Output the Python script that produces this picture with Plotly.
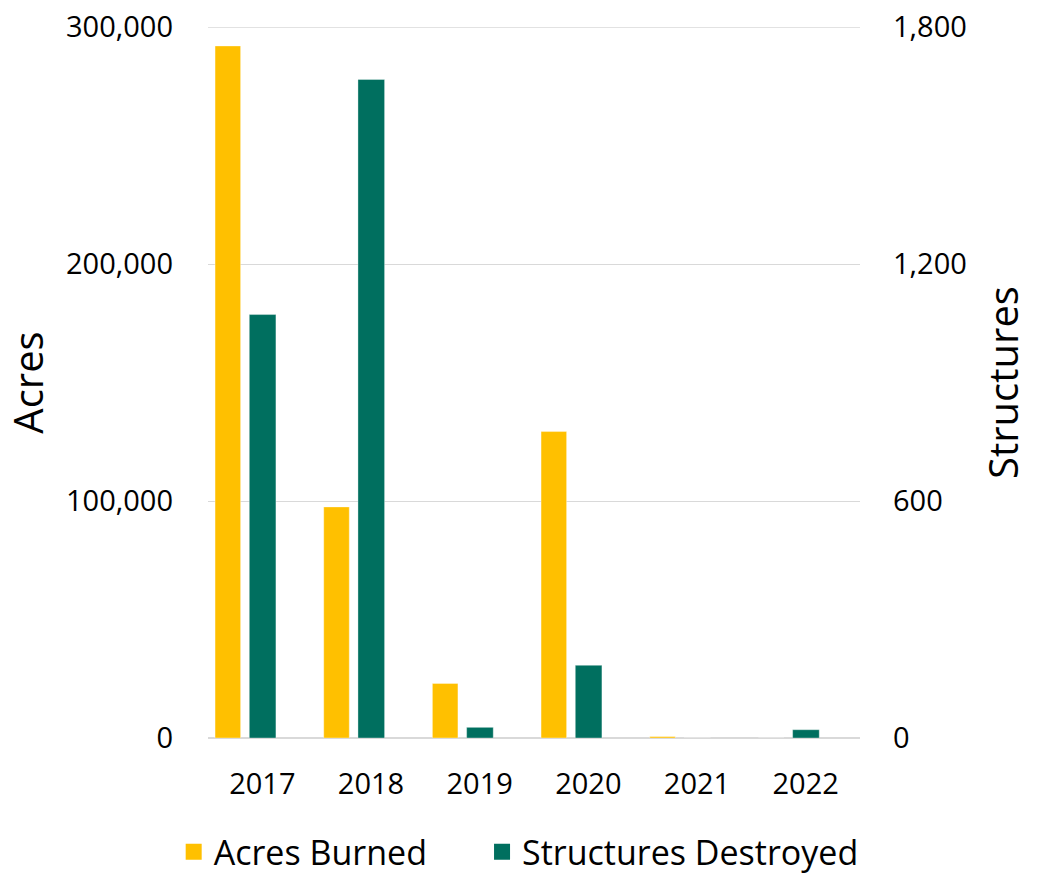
import plotly.graph_objects as go

years = ["2017", "2018", "2019", "2020", "2021", "2022"]
acres_burned = [292000, 97500, 23000, 129300, 600, 0]
structures_destroyed = [1072, 1667, 27, 184, 0, 21]

left_ticks = [0, 100000, 200000, 300000]
left_labels = ["0", "100,000", "200,000", "300,000"]
right_ticks = [0, 600, 1200, 1800]
right_labels = ["0", "600", "1,200", "1,800"]

FONT = "Open Sans"
YELLOW = "#FFC000"
TEAL = "#006F5F"
GRID = "#d9d9d9"

fig = go.Figure()
fig.add_trace(go.Bar(
    x=years, y=acres_burned, name="Acres Burned", yaxis="y",
    marker=dict(color=YELLOW, line=dict(color="rgba(255,255,255,0.35)", width=1)),
    width=0.235, offset=-0.435, showlegend=False,
))
fig.add_trace(go.Bar(
    x=years, y=structures_destroyed, name="Structures Destroyed", yaxis="y2",
    marker=dict(color=TEAL, line=dict(color="rgba(255,255,255,0.35)", width=1)),
    width=0.245, offset=-0.12, showlegend=False,
))
# legend entries with larger square swatches, each in its own legend box
for name, col, lg in [("Acres Burned", YELLOW, "legend"),
                      ("Structures Destroyed", TEAL, "legend2")]:
    fig.add_trace(go.Scatter(
        x=[None], y=[None], mode="markers", name=name, legend=lg,
        marker=dict(symbol="square", size=22, color=col),
    ))

fig.add_shape(type="line", xref="paper", x0=0, x1=1, yref="y",
              y0=left_ticks[-1], y1=left_ticks[-1],
              line=dict(color=GRID, width=1.3), layer="below")

legend_common = dict(orientation="h", xanchor="left", xref="container",
                     y=0.025, yanchor="middle", yref="container",
                     font=dict(size=34, family=FONT), itemsizing="trace",
                     itemwidth=30, bgcolor="rgba(0,0,0,0)")

fig.update_layout(
    width=1040, height=874,
    margin=dict(l=208, r=180, t=27, b=136, autoexpand=False),
    paper_bgcolor="white", plot_bgcolor="white",
    font=dict(family=FONT, color="#000000", size=29),
    barmode="overlay",
    showlegend=True,
    legend=dict(x=0.167, **legend_common),
    legend2=dict(x=0.4635, **legend_common),
    xaxis=dict(type="category", showgrid=False, showline=False, zeroline=False,
               ticks="", tickfont=dict(size=29), ticklabelstandoff=26,
               automargin=False),
    yaxis=dict(range=[0, 300000], tickvals=left_ticks, ticktext=left_labels,
               showgrid=True, gridcolor=GRID, gridwidth=1.3, zeroline=True,
               zerolinecolor=GRID, zerolinewidth=2, showline=False, ticks="",
               tickfont=dict(size=29), ticklabelstandoff=34, automargin=False,
               title=dict(text="Acres", font=dict(size=40), standoff=10)),
    yaxis2=dict(range=[0, 1800], tickvals=right_ticks, ticktext=right_labels,
                overlaying="y", side="right", showgrid=False, zeroline=False,
                showline=False, ticks="", tickfont=dict(size=29),
                ticklabelstandoff=32, automargin=False,
                title=dict(text="Structures", font=dict(size=40), standoff=24)),
)

fig.write_html("out.html")
